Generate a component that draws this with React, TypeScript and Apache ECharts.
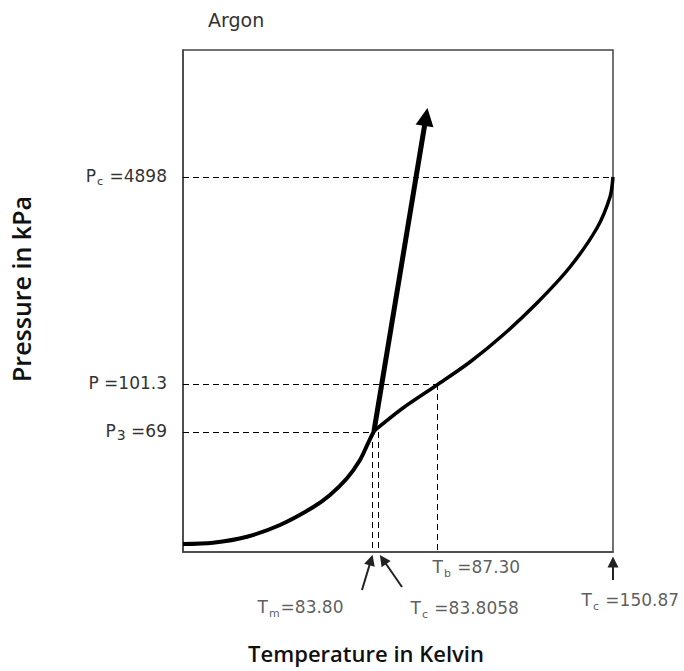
import React, { useEffect, useRef } from "react";
import * as echarts from "echarts";

const FONT = "DejaVu Sans";
const TITLE_FONT = "Open Sans";

// Schematic phase diagram coordinates (x: temperature axis units, y: pressure axis units)
const sublimationCurve = [
  [0, 8], [30, 9.3], [64, 15.3], [97, 27], [130, 44.7], [147, 57], [164, 73.7], [177, 92], [185, 108.7], [191, 121],
];
const vaporCurve = [
  [191, 121], [220, 144], [254, 167], [287, 190], [320, 217], [354, 249], [387, 285], [414, 324], [427, 355], [430, 375],
];
const fusionLine = [[191, 121], [243, 435]];

// Characteristic points (schematic positions)
const T_m = 189;
const T_3 = 195;
const T_b = 254;
const T_c = 430;
const P_c = 375;
const P_atm = 168;
const P_3 = 120;
const X_MAX = 430;
const Y_MAX = 502;

const yTickValues = [P_c, P_atm, P_3];
const yTickLabels = ["{n|P}{s|c}{n| =4898}", "{n|P =101.3}", "{n|P}{s3|3}{n| =69}"];
const xTickValues = [T_m, T_3, T_b, T_c];
const xTickLabels = [
  "{n|T}{s|m}{n|=83.80}",
  "{n|T}{s|c}{n| =83.8058}",
  "{n|T}{s|b}{n| =87.30}",
  "{n|T}{s|c}{n| =150.87}",
];
// pointer arrows below the axis: [tail, head]
const pointerArrows = [
  [[179, -38], [188, -8]],
  [[219, -35], [200, -7.5]],
  [[430, -28], [430, -10]],
];

// Dashed guide segments
const guideSegments = [
  [[0, P_c], [T_c, P_c]],
  [[0, P_atm], [T_b, P_atm]],
  [[0, P_3], [191, P_3]],
  [[T_m, P_3], [T_m, 0]],
  [[T_3, P_3], [T_3, 0]],
  [[T_b, P_atm], [T_b, 0]],
];

// label styling (pixel offsets from each tick)
const xLabelOffsets = [[-114, 57], [33, 58], [-4, 17], [-31, 50]];

const richStyles = {
  n: { fontFamily: FONT, fontSize: 17, color: "#333", lineHeight: 20, verticalAlign: "top" },
  s: { fontFamily: FONT, fontSize: 11, color: "#333", lineHeight: 13, verticalAlign: "top", padding: [9, 1, 0, 1] },
  s3: { fontFamily: FONT, fontSize: 14, color: "#333", lineHeight: 16, verticalAlign: "top", padding: [6, 0, 0, 1] },
};

export default function App() {
  const ref = useRef<HTMLDivElement>(null);
  useEffect(() => {
    if (!ref.current) return;
    const chart = echarts.init(ref.current, undefined, { renderer: "svg" });
    chart.setOption({
      animation: false,
      backgroundColor: "#fff",
      title: {
        text: "Argon",
        left: 208,
        top: 10,
        padding: 0,
        textStyle: { fontFamily: FONT, fontSize: 19, fontWeight: "normal", color: "#333" },
      },
      grid: {
        left: 183,
        right: 71,
        top: 50,
        bottom: 119,
        show: true,
        borderColor: "#444",
        borderWidth: 1.5,
      },
      xAxis: {
        type: "value",
        min: 0,
        max: X_MAX,
        name: "Temperature in Kelvin",
        nameLocation: "middle",
        nameGap: 90,
        nameTextStyle: {
          fontFamily: TITLE_FONT,
          fontSize: 22,
          fontWeight: 600,
          color: "#111",
          padding: [0, 64, 0, 0],
        },
        axisLine: { show: true, lineStyle: { color: "#444", width: 1.5 } },
        axisTick: { show: false },
        axisLabel: { show: false },
        splitLine: { show: false },
      },
      yAxis: {
        type: "value",
        min: 0,
        max: Y_MAX,
        name: "Pressure in kPa",
        nameLocation: "middle",
        nameRotate: 90,
        nameGap: 150,
        nameTextStyle: {
          fontFamily: TITLE_FONT,
          fontSize: 25,
          fontWeight: 600,
          color: "#111",
          padding: [0, 0, 0, 24],
        },
        axisLine: { show: true, lineStyle: { color: "#444", width: 1.5 } },
        axisTick: { show: false },
        splitLine: { show: false },
        axisLabel: {
          show: true,
          customValues: yTickValues,
          margin: 16,
          formatter: (v: number) => {
            const i = yTickValues.indexOf(v);
            return i >= 0 ? yTickLabels[i] : "";
          },
          rich: richStyles,
        },
      },
      series: [
        {
          type: "lines",
          coordinateSystem: "cartesian2d",
          polyline: false,
          clip: false,
          silent: true,
          lineStyle: { color: "#000", width: 1, type: [6, 4], opacity: 1 },
          symbol: ["none", "none"],
          data: guideSegments.map((c) => ({ coords: c })),
          z: 1,
        },
        {
          type: "line",
          data: sublimationCurve,
          smooth: 0.3,
          showSymbol: false,
          lineStyle: { color: "#000", width: 4 },
          z: 3,
        },
        {
          type: "line",
          data: vaporCurve,
          smooth: 0.3,
          showSymbol: false,
          lineStyle: { color: "#000", width: 3.5 },
          z: 3,
        },
        {
          type: "lines",
          coordinateSystem: "cartesian2d",
          clip: false,
          silent: true,
          symbol: ["none", "triangle"],
          symbolSize: [0, 18],
          lineStyle: { color: "#000", width: 5, opacity: 1 },
          itemStyle: { color: "#000" },
          data: [{ coords: fusionLine }],
          z: 4,
        },
        {
          type: "lines",
          coordinateSystem: "cartesian2d",
          clip: false,
          silent: true,
          symbol: ["none", "triangle"],
          symbolSize: [0, 11],
          lineStyle: { color: "#222", width: 2, opacity: 1 },
          itemStyle: { color: "#222" },
          data: pointerArrows.map((c) => ({ coords: c })),
          z: 4,
        },
        {
          type: "scatter",
          clip: false,
          silent: true,
          symbolSize: 1,
          itemStyle: { color: "rgba(0,0,0,0)" },
          data: xTickValues.map((x, i) => ({
            value: [x, 0],
            label: {
              show: true,
              position: [0, 0],
              align: "left",
              verticalAlign: "middle",
              offset: xLabelOffsets[i],
              formatter: xTickLabels[i],
              rich: richStyles,
            },
          })),
          z: 5,
        },
      ],
    });
    return () => chart.dispose();
  }, []);
  return (
    <div
      ref={ref}
      style={{ position: "fixed", left: 0, top: 0, width: 684, height: 671, background: "#fff" }}
    />
  );
}
